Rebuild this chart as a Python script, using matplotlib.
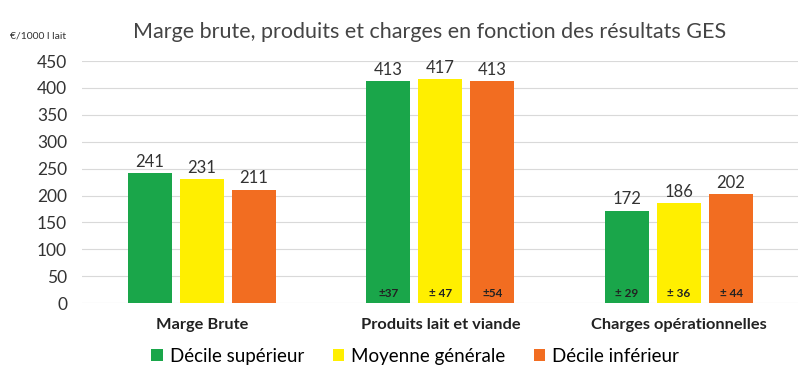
import numpy as np
import matplotlib.pyplot as plt

plt.rcParams['font.family'] = ['Lato', 'DejaVu Sans']

categories = ['Marge Brute', 'Produits lait et viande', 'Charges opérationnelles']
series = ['Décile supérieur', 'Moyenne générale', 'Décile inférieur']
values = {
    'Décile supérieur': [241, 413, 172],
    'Moyenne générale': [231, 417, 186],
    'Décile inférieur': [211, 413, 202],
}
ecarts = {
    'Décile supérieur': ['', '±37', '± 29'],
    'Moyenne générale': ['', '± 47', '± 36'],
    'Décile inférieur': ['', '±54', '± 44'],
}
colors = ['#1aa64a', '#ffef00', '#f26d21']

fig = plt.figure(figsize=(8, 3.75), dpi=100)
ax = fig.add_axes([0.103, 0.192, 0.895, 0.645])

x = np.arange(len(categories))
width = 0.184
step = 0.218
for i, s in enumerate(series):
    pos = x + (i - 1) * step
    bars = ax.bar(pos, values[s], width, color=colors[i], label=s, zorder=3)
    for b, v, e in zip(bars, values[s], ecarts[s]):
        ax.text(b.get_x() + b.get_width() / 2, v + 6, str(v), ha='center', va='bottom',
                fontsize=12, color='#333333')
        if e:
            ax.text(b.get_x() + b.get_width() / 2, 8, e, ha='center', va='bottom',
                    fontsize=8.5, fontweight='bold', color='#222222', zorder=4)

ax.set_xlim(-0.5, 2.5)
ax.set_ylim(0, 450)
ax.set_yticks(range(0, 451, 50))
ax.set_xticks(x)
ax.set_xticklabels(categories, fontsize=11.8, fontweight='bold', color='#222222')
ax.tick_params(axis='x', length=0, pad=11)
ax.tick_params(axis='y', length=0, labelsize=12.5, labelcolor='#333333', pad=11)
ax.grid(axis='y', color='#d9d9d9', linewidth=0.8, zorder=0)
for sp in ax.spines.values():
    sp.set_visible(False)

fig.text(0.537, 0.915, 'Marge brute, produits et charges en fonction des résultats GES',
         ha='center', va='center', fontsize=15.5, color='#444444')
fig.text(0.013, 0.905, '€/1000 l lait', ha='left', va='center', fontsize=7.5, color='#333333')

ax.legend(loc='upper center', bbox_to_anchor=(0.465, -0.115), ncol=3, frameon=False,
          fontsize=13.5, handlelength=0.6, handleheight=0.6, columnspacing=1.5, handletextpad=0.4)

fig.savefig('out.png', dpi=100)
